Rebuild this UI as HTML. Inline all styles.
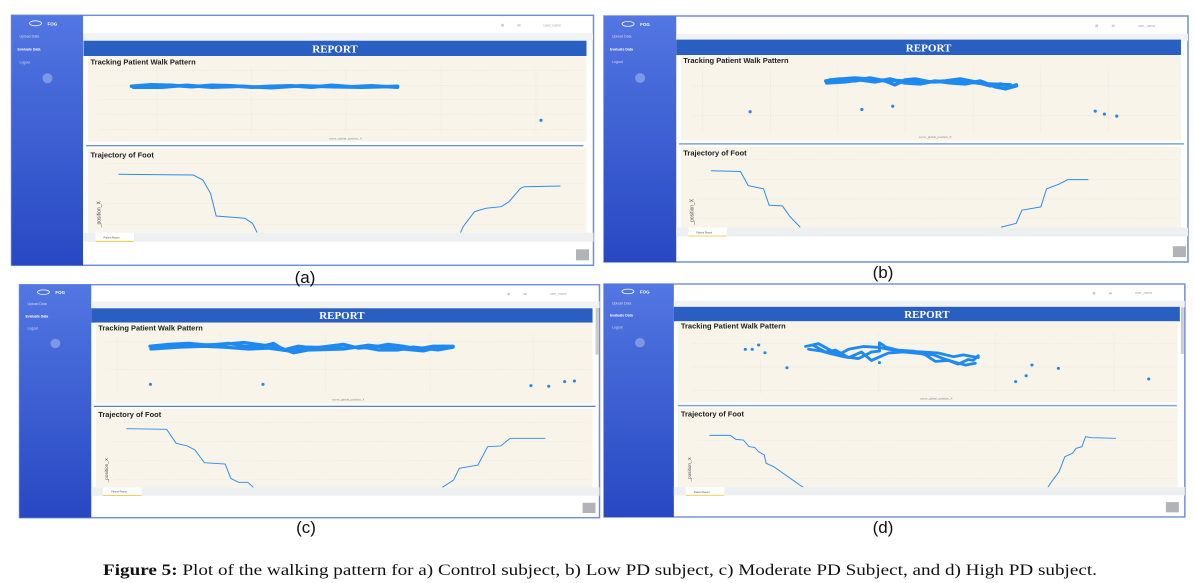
<!DOCTYPE html>
<html><head><meta charset="utf-8"><style>
html,body{margin:0;padding:0;background:#fff;width:1194px;height:583px;overflow:hidden}
svg{display:block}
.t{font-family:"Liberation Sans",sans-serif}
</style></head><body>
<svg width="1194" height="583" viewBox="0 0 1194 583" xmlns="http://www.w3.org/2000/svg">
<defs>
<linearGradient id="sb" x1="0" y1="0" x2="0" y2="1"><stop offset="0" stop-color="#5276e2"/><stop offset="1" stop-color="#2748c2"/></linearGradient>
</defs>

<!-- Panel A -->
<g transform="translate(11.5,15.3) scale(1,1)">
<rect x="0" y="0" width="582" height="250" fill="#fff" stroke="#6f8fd8" stroke-width="1.5"/>
<rect x="0" y="0" width="71.5" height="250" fill="url(#sb)"/>
<ellipse cx="24" cy="8" rx="6" ry="2.5" fill="none" stroke="#fff" stroke-width="0.8"/>
<text x="36" y="10" class="t" font-size="4.5" font-weight="bold" fill="#fff">FOG</text>
<text x="8" y="22" class="t" font-size="3.5" fill="#dde">Upload Data</text>
<text x="6" y="35" class="t" font-size="3.5" font-weight="bold" fill="#fff">Evaluate Data</text>
<text x="8" y="48" class="t" font-size="3.5" fill="#dde">Logout</text>
<circle cx="36" cy="63" r="5" fill="#fff" fill-opacity="0.3"/>
<rect x="71.5" y="18" width="510" height="7" fill="#f1f2f4"/>
<circle cx="491" cy="10" r="1.5" fill="#ccc"/><rect x="506" y="9" width="3" height="2" fill="#ccc"/>
<text x="532" y="11" class="t" font-size="3.5" fill="#aaa">user_name</text>
<rect x="72" y="25.4" width="503" height="15.3" fill="#2a5fc2"/>
<text x="323.5" y="37" text-anchor="middle" font-family="Liberation Serif,serif" font-weight="bold" font-size="11" fill="#fff">REPORT</text>
<rect x="76.5" y="40.7" width="498.5" height="85.7" fill="#f8f4ea"/>
<text x="79" y="49" class="t" font-size="7.5" font-weight="bold" fill="#222">Tracking Patient Walk Pattern</text>
<g stroke="#ddd" stroke-width="0.5" stroke-dasharray="1,1.5">
<path d="M88 55H572M88 70H572M88 84H572M88 99H572M88 114H572M145.5 52V118M240 52V118M334.5 52V118M429.5 52V118M524.5 52V118"/></g>
<g fill="none" stroke="#1e8af0" stroke-width="3.5" stroke-linecap="round" stroke-linejoin="round">
<polyline points="120,71 140,69.5 160,70 180,71.5 200,70 220,70.5 240,72 260,71 280,70.5 300,72 320,70 340,71.5 360,70.5 386,72"/>
<polyline points="122,72 150,72 175,70 200,72 230,71 260,72.5 290,70.5 320,71.5 350,72 386,71"/>
</g>
<circle cx="529.5" cy="105" r="1.6" fill="#1e8af0"/>
<text x="334" y="124" text-anchor="middle" class="t" font-size="3" fill="#888">some_global_position_X</text>
<line x1="74.6" y1="130.4" x2="572" y2="130.4" stroke="#3a6fd0" stroke-width="1"/>
<rect x="76.5" y="133" width="498.5" height="84.4" fill="#f8f4ea"/>
<text x="79" y="142" class="t" font-size="7.5" font-weight="bold" fill="#222">Trajectory of Foot</text>
<g stroke="#ddd" stroke-width="0.5" stroke-dasharray="1,1.5"><path d="M95 148H572M95 168H572M95 188H572M95 209H572"/></g>
<text x="89" y="212" class="t" font-size="5" fill="#444" transform="rotate(-90 89 212)">_position_X</text>
<g fill="none" stroke="#2d8cf0" stroke-width="1">
<polyline points="107,159 181.8,159.7 191.3,164.7 199,178 204.7,200.7 233.4,203 241,208 245.7,217.4"/>
<polyline points="449,217.4 451.6,211.4 463,196.4 474.5,193 489.8,191.4 497.5,186.4 509,173 512.8,171.4 549,170.7"/>
</g>
<rect x="72" y="217.4" width="510" height="9" fill="#eeeff1"/>
<rect x="84" y="217.4" width="38.5" height="8.6" fill="#fff"/><line x1="84" y1="226" x2="122.5" y2="226" stroke="#f0c030" stroke-width="0.8"/>
<text x="92" y="223" class="t" font-size="2.5" fill="#555">Patient Report</text>
<rect x="564.5" y="234" width="13" height="11" fill="#b0b3b8"/>
</g>

<!-- Panel B -->
<g transform="translate(604,16) scale(1.0034,0.984)">
<rect x="0" y="0" width="582" height="250" fill="#fff" stroke="#6f8fd8" stroke-width="1.5"/>
<rect x="0" y="0" width="72" height="250" fill="url(#sb)"/>
<ellipse cx="24" cy="8" rx="6" ry="2.5" fill="none" stroke="#fff" stroke-width="0.8"/>
<text x="36" y="10" class="t" font-size="4.5" font-weight="bold" fill="#fff">FOG</text>
<text x="8" y="22" class="t" font-size="3.5" fill="#dde">Upload Data</text>
<text x="6" y="35" class="t" font-size="3.5" font-weight="bold" fill="#fff">Evaluate Data</text>
<text x="8" y="48" class="t" font-size="3.5" fill="#dde">Logout</text>
<circle cx="36" cy="63" r="5" fill="#fff" fill-opacity="0.3"/>
<rect x="72" y="18" width="510" height="7" fill="#f1f2f4"/>
<circle cx="491" cy="10" r="1.5" fill="#ccc"/><rect x="506" y="9" width="3" height="2" fill="#ccc"/>
<text x="532" y="11" class="t" font-size="3.5" fill="#aaa">user_name</text>
<rect x="72" y="24" width="503" height="15.7" fill="#2a5fc2"/>
<text x="323.5" y="36" text-anchor="middle" font-family="Liberation Serif,serif" font-weight="bold" font-size="11" fill="#fff">REPORT</text>
<rect x="76.5" y="39.7" width="498.5" height="86.7" fill="#f8f4ea"/>
<text x="79" y="48" class="t" font-size="7.5" font-weight="bold" fill="#222">Tracking Patient Walk Pattern</text>
<g stroke="#ddd" stroke-width="0.5" stroke-dasharray="1,1.5">
<path d="M88 71H572M88 101H572M98 52V118M166 52V118M233 52V118M300 52V118M368 52V118M435 52V118M503 52V118"/></g>
<g fill="none" stroke="#1e8af0" stroke-width="3.5" stroke-linecap="round" stroke-linejoin="round">
<polyline points="221,66 235,64 250,66 265,63 280,66 290,70 300,65 310,64 325,67 340,66 355,64 370,67 385,71 395,69 405,72 411,70"/>
<polyline points="222,68 240,67 255,65 270,67 285,64 300,68 315,69 330,66 345,68 360,69 375,66 390,72 400,74 411,71"/>
<polyline points="225,65 250,63 275,65 300,66 330,67 355,66 380,69 405,70"/>
</g>
<g fill="#1e8af0"><circle cx="145.6" cy="97.3" r="1.6"/><circle cx="257" cy="95" r="1.6"/><circle cx="287.7" cy="91.7" r="1.6"/><circle cx="489.6" cy="96.7" r="1.6"/><circle cx="498.7" cy="99.7" r="1.6"/><circle cx="511" cy="101.7" r="1.6"/></g>
<text x="330" y="124" text-anchor="middle" class="t" font-size="3" fill="#888">some_global_position_X</text>
<line x1="74.6" y1="130" x2="578" y2="130" stroke="#7fa3d8" stroke-width="1.5"/>
<rect x="76.5" y="133" width="498.5" height="82" fill="#f8f4ea"/>
<text x="79" y="142" class="t" font-size="7.5" font-weight="bold" fill="#222">Trajectory of Foot</text>
<g stroke="#ddd" stroke-width="0.5" stroke-dasharray="1,1.5"><path d="M95 146H572M95 166H572M95 186H572M95 206H572"/></g>
<text x="89" y="212" class="t" font-size="5" fill="#444" transform="rotate(-90 89 212)">_position_X</text>
<g fill="none" stroke="#2d8cf0" stroke-width="1">
<polyline points="106.6,157.3 136,158 143.7,172.3 159,175.7 164.6,192.3 177.8,193 185.4,204 195.6,214.7"/>
<polyline points="395.6,214.7 410.8,210.7 416.5,197.3 435.4,194 441,175.7 454,170.7 462,166.3 482.7,166.3"/>
</g>
<rect x="72" y="215" width="510" height="9" fill="#eeeff1"/>
<rect x="84" y="215" width="38.5" height="8.6" fill="#fff"/><line x1="84" y1="223.6" x2="122.5" y2="223.6" stroke="#f0c030" stroke-width="0.8"/>
<text x="92" y="221" class="t" font-size="2.5" fill="#555">Patient Report</text>
<rect x="567" y="234" width="13" height="11" fill="#b0b3b8"/>
</g>

<!-- Panel C -->
<g transform="translate(19.5,284.7) scale(0.9966,0.932)">
<rect x="0" y="0" width="582" height="250" fill="#fff" stroke="#6f8fd8" stroke-width="1.5"/>
<rect x="0" y="0" width="72" height="250" fill="url(#sb)"/>
<ellipse cx="24" cy="8" rx="6" ry="2.5" fill="none" stroke="#fff" stroke-width="0.8"/>
<text x="36" y="10" class="t" font-size="4.5" font-weight="bold" fill="#fff">FOG</text>
<text x="8" y="22" class="t" font-size="3.5" fill="#dde">Upload Data</text>
<text x="6" y="35" class="t" font-size="3.5" font-weight="bold" fill="#fff">Evaluate Data</text>
<text x="8" y="48" class="t" font-size="3.5" fill="#dde">Logout</text>
<circle cx="36" cy="63" r="5" fill="#fff" fill-opacity="0.3"/>
<rect x="72" y="18" width="510" height="7" fill="#f1f2f4"/>
<rect x="578" y="25" width="3" height="50" fill="#ccc"/>
<circle cx="491" cy="10" r="1.5" fill="#ccc"/><rect x="506" y="9" width="3" height="2" fill="#ccc"/>
<text x="532" y="11" class="t" font-size="3.5" fill="#aaa">user_name</text>
<rect x="72" y="25.3" width="503" height="15.4" fill="#2a5fc2"/>
<text x="323.5" y="37" text-anchor="middle" font-family="Liberation Serif,serif" font-weight="bold" font-size="11" fill="#fff">REPORT</text>
<rect x="76.5" y="40.7" width="498.5" height="87" fill="#f8f4ea"/>
<text x="79" y="49" class="t" font-size="7.5" font-weight="bold" fill="#222">Tracking Patient Walk Pattern</text>
<g stroke="#ddd" stroke-width="0.5" stroke-dasharray="1,1.5">
<path d="M88 61H572M88 91H572M98 52V118M202 52V118M307 52V118M412 52V118M516 52V118"/></g>
<g fill="none" stroke="#1e8af0" stroke-width="3.5" stroke-linecap="round" stroke-linejoin="round">
<polyline points="131,66 150,64 170,63 190,65 210,63 225,66 240,67 255,63 265,70 280,66 295,68 310,66 325,64 340,68 355,67 370,64 385,66 400,69 415,66 435,66"/>
<polyline points="132,69 160,67 185,66 205,67 230,69 250,68 270,71 290,67 320,68 345,67 360,70 380,70 395,67 420,70 435,67"/>
<polyline points="140,67 175,65 205,64 225,62 245,65 260,67 275,73 290,70 325,69 350,65 375,68 405,71 425,66"/>
</g>
<g fill="#1e8af0"><circle cx="131.4" cy="106.9" r="1.6"/><circle cx="244.3" cy="106.9" r="1.6"/><circle cx="513.2" cy="108.3" r="1.6"/><circle cx="531" cy="109" r="1.6"/><circle cx="547" cy="104" r="1.6"/><circle cx="556.8" cy="103.3" r="1.6"/></g>
<text x="330" y="124" text-anchor="middle" class="t" font-size="3" fill="#888">some_global_position_X</text>
<line x1="74.6" y1="130.5" x2="578" y2="130.5" stroke="#3a6fd0" stroke-width="1.2"/>
<rect x="76.5" y="133" width="498.5" height="84.5" fill="#f8f4ea"/>
<text x="79" y="142" class="t" font-size="7.5" font-weight="bold" fill="#222">Trajectory of Foot</text>
<g stroke="#ddd" stroke-width="0.5" stroke-dasharray="1,1.5"><path d="M95 148H572M95 168H572M95 189H572M95 209H572"/></g>
<text x="89" y="212" class="t" font-size="5" fill="#444" transform="rotate(-90 89 212)">_position_X</text>
<g fill="none" stroke="#2d8cf0" stroke-width="1">
<polyline points="107.2,154.5 147.7,155.2 157.2,170.2 168.5,173 176,177.3 185.6,191 206.4,192.4 212,207.8 219.7,212 229,212 234.8,217.5"/>
<polyline points="424.2,217.5 435.6,209.6 441.3,197 460,193.5 469.7,173.8 482.9,173 492.4,164.8 527.6,164.8"/>
</g>
<rect x="72" y="217.5" width="510" height="9" fill="#eeeff1"/>
<rect x="84" y="217.5" width="38.5" height="8.6" fill="#fff"/><line x1="84" y1="226" x2="122.5" y2="226" stroke="#f0c030" stroke-width="0.8"/>
<text x="92" y="223" class="t" font-size="2.5" fill="#555">Patient Report</text>
<rect x="565" y="234" width="13" height="11" fill="#b0b3b8"/>
</g>

<!-- Panel D -->
<g transform="translate(604,284) scale(0.998,0.932)">
<rect x="0" y="0" width="582" height="250" fill="#fff" stroke="#6f8fd8" stroke-width="1.5"/>
<rect x="0" y="0" width="70" height="250" fill="url(#sb)"/>
<ellipse cx="24" cy="8" rx="6" ry="2.5" fill="none" stroke="#fff" stroke-width="0.8"/>
<text x="36" y="10" class="t" font-size="4.5" font-weight="bold" fill="#fff">FOG</text>
<text x="8" y="22" class="t" font-size="3.5" fill="#dde">Upload Data</text>
<text x="6" y="35" class="t" font-size="3.5" font-weight="bold" fill="#fff">Evaluate Data</text>
<text x="8" y="48" class="t" font-size="3.5" fill="#dde">Logout</text>
<circle cx="36" cy="63" r="5" fill="#fff" fill-opacity="0.3"/>
<rect x="70" y="18" width="512" height="7" fill="#f1f2f4"/>
<rect x="578" y="25" width="3" height="50" fill="#ccc"/>
<circle cx="491" cy="10" r="1.5" fill="#ccc"/><rect x="506" y="9" width="3" height="2" fill="#ccc"/>
<text x="532" y="11" class="t" font-size="3.5" fill="#aaa">user_name</text>
<rect x="70" y="24.5" width="507" height="15.5" fill="#2a5fc2"/>
<text x="323.5" y="36.5" text-anchor="middle" font-family="Liberation Serif,serif" font-weight="bold" font-size="11" fill="#fff">REPORT</text>
<rect x="74" y="40" width="501" height="87" fill="#f8f4ea"/>
<text x="77" y="48" class="t" font-size="7.5" font-weight="bold" fill="#222">Tracking Patient Walk Pattern</text>
<g stroke="#ddd" stroke-width="0.5" stroke-dasharray="1,1.5">
<path d="M88 64H572M88 89H572M88 114H572M157 52V118M275 52V118M392 52V118M511 52V118"/></g>
<g fill="none" stroke="#1e8af0" stroke-width="3" stroke-linecap="round" stroke-linejoin="round">
<polyline points="202,67 215,64 225,70 235,76 245,70 260,67 275,68 290,71 305,72 320,73 335,74 350,78 360,76 375,79"/>
<polyline points="205,70 218,72 228,75 240,78 255,80 268,73 276,72 276,63 283,68 295,71 310,72 322,76 332,83 345,82 355,86 365,81 370,82 375,77"/>
<polyline points="210,66 222,73 232,71 245,79 258,73 268,82 285,74 300,73 330,76 340,80 352,84 362,87 372,85"/>
</g>
<g fill="#1e8af0"><circle cx="141.6" cy="70.1" r="1.6"/><circle cx="148.5" cy="70.1" r="1.6"/><circle cx="154.9" cy="65.5" r="1.6"/><circle cx="161.3" cy="73.7" r="1.6"/><circle cx="183.3" cy="89.8" r="1.6"/><circle cx="276" cy="84.4" r="1.6"/><circle cx="412.5" cy="104.8" r="1.6"/><circle cx="423" cy="98.4" r="1.6"/><circle cx="428.8" cy="86.9" r="1.6"/><circle cx="455.3" cy="90.5" r="1.6"/><circle cx="545.8" cy="101.9" r="1.6"/></g>
<text x="333" y="124" text-anchor="middle" class="t" font-size="3" fill="#888">some_global_position_X</text>
<line x1="74" y1="130.5" x2="574" y2="130.5" stroke="#7fa3d8" stroke-width="1.5"/>
<rect x="74" y="133" width="501" height="85" fill="#f8f4ea"/>
<text x="77" y="142" class="t" font-size="7.5" font-weight="bold" fill="#222">Trajectory of Foot</text>
<g stroke="#ddd" stroke-width="0.5" stroke-dasharray="1,1.5"><path d="M95 148H572M95 168H572M95 189H572M95 209H572"/></g>
<text x="87" y="212" class="t" font-size="5" fill="#444" transform="rotate(-90 87 212)">_position_X</text>
<g fill="none" stroke="#2d8cf0" stroke-width="1">
<polyline points="105.6,162.4 126.5,162.4 132.2,166.7 139.7,167.4 145.4,174.6 151,175.3 155,180 160.6,183.5 162.5,192.4 170,196 199.6,218.2"/>
<polyline points="444.7,218.2 448.5,212 456,201.3 461.7,185.3 469.3,181.7 473,176.3 478.8,174.6 482.5,163.8 488.2,164.9 513,165.6"/>
</g>
<rect x="70" y="218" width="512" height="9" fill="#eeeff1"/>
<rect x="82" y="218" width="38.5" height="8.6" fill="#fff"/><line x1="82" y1="226.6" x2="120.5" y2="226.6" stroke="#f0c030" stroke-width="0.8"/>
<text x="90" y="224" class="t" font-size="2.5" fill="#555">Patient Report</text>
<rect x="563" y="234" width="13" height="11" fill="#b0b3b8"/>
</g>

<g class="t" font-size="17" fill="#111" text-anchor="middle">
<text x="305" y="283">(a)</text>
<text x="883" y="278">(b)</text>
<text x="306" y="533">(c)</text>
<text x="883" y="533">(d)</text>
</g>
<text x="103" y="575" font-family="Liberation Serif,serif" font-size="15.5" fill="#111" textLength="994" lengthAdjust="spacingAndGlyphs"><tspan font-weight="bold">Figure 5:</tspan> Plot of the walking pattern for a) Control subject, b) Low PD subject, c) Moderate PD Subject, and d) High PD subject.</text>
</svg>
</body></html>
